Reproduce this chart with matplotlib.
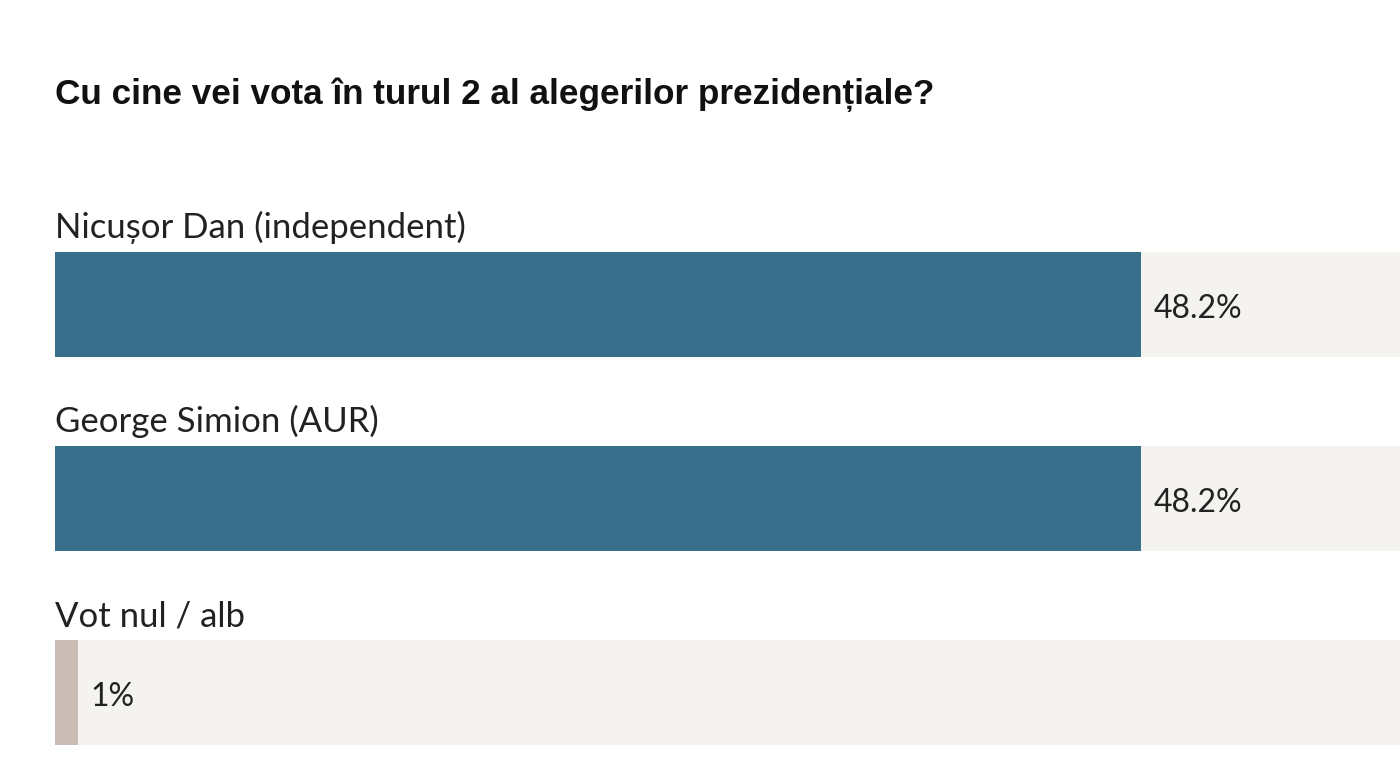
import matplotlib.pyplot as plt

title = 'Cu cine vei vota în turul 2 al alegerilor prezidențiale?'
labels = ['Nicușor Dan (independent)', 'George Simion (AUR)', 'Vot nul / alb']
values = [48.2, 48.2, 1]
colors = ['#386f8a', '#386f8a', '#c8bcb5']

fig = plt.figure(figsize=(14, 7.65), dpi=100)
fig.patch.set_facecolor('white')
# axes starts at left edge of bars; x in percent, y in pixel rows
ax = fig.add_axes([55 / 1400, 0, 1345 / 1400, 1])
ax.set_xlim(0, 1345 / 22.53)
ax.set_ylim(765, 0)
ax.axis('off')

tops = [252, 446, 640]
h = 105
for lab, v, c, t in zip(labels, values, colors, tops):
    ax.barh(t + h / 2, 100, height=h, color='#f4f3f0', align='center')
    ax.barh(t + h / 2, v, height=h, color=c, align='center')
    ax.text(0, t - 14, lab, fontsize=25, family='Lato', color='#222222', va='baseline')
    ax.text(v + 0.55, t + h / 2 + 4, f'{v:g}%', fontsize=23, family='Lato', color='#222222', va='center')

fig.text(55 / 1400, 1 - 95 / 765, title, fontsize=25.3, fontweight='bold',
         family='Liberation Sans', color='#111111', va='center')

fig.savefig('out.png', dpi=100)
